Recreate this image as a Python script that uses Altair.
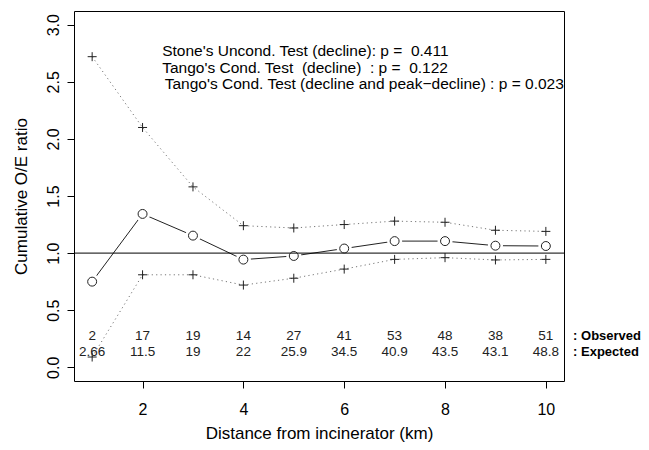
import altair as alt
import pandas as pd

# ---- data ----
distance = [1, 2, 3, 4, 5, 6, 7, 8, 9, 10]
oe_ratio = [0.75, 1.343, 1.153, 0.943, 0.975, 1.04, 1.105, 1.105, 1.065, 1.062]
upper = [2.72, 2.10, 1.58, 1.24, 1.22, 1.25, 1.28, 1.27, 1.20, 1.19]
lower = [0.09, 0.81, 0.81, 0.72, 0.78, 0.86, 0.945, 0.96, 0.94, 0.945]
observed = ["2", "17", "19", "14", "27", "41", "53", "48", "38", "51"]
expected = ["2.66", "11.5", "19", "22", "25.9", "34.5", "40.9", "43.5", "43.1", "48.8"]
row_labels = [": Observed", ": Expected"]
test_lines = [
    "Stone's Uncond. Test (decline): p =\u00a0 0.411",
    "Tango's Cond. Test\u00a0 (decline)\u00a0 : p =\u00a0 0.122",
    "Tango's Cond. Test (decline and peak\u2212decline) : p = 0.023",
]
y_ticks = [0.0, 0.5, 1.0, 1.5, 2.0, 2.5, 3.0]
x_ticks = [2, 4, 6, 8, 10]

# ---- layout constants (positions in data units) ----
test_x = [2.39, 2.39, 2.44]
test_y = [2.77, 2.62, 2.48]
obs_y, exp_y = 0.27, 0.13
row_label_x = 10.54

FONT = "Liberation Sans, Arial, sans-serif"

df = pd.DataFrame({"d": distance, "oe": oe_ratio, "up": upper, "lo": lower,
                   "obs": observed, "exp": expected})
tests_df = pd.DataFrame({"x": test_x, "y": test_y, "t": test_lines})
rows_df = pd.DataFrame({"x": [row_label_x, row_label_x], "y": [obs_y, exp_y], "t": row_labels})

xs = alt.Scale(domain=[0.64, 10.36], nice=False, zero=False)
ys = alt.Scale(domain=[-0.12, 3.12], nice=False, zero=False)

xax = alt.Axis(values=x_ticks, title="Distance from incinerator (km)", grid=False,
               domain=False, tickSize=7, tickColor="black", labelPadding=13,
               titlePadding=8, labelFontSize=16, titleFontSize=17,
               labelFont=FONT, titleFont=FONT, titleFontWeight="normal",
               labelColor="black", titleColor="black")
yax = alt.Axis(values=y_ticks, format=".1f", title="Cumulative O/E ratio", grid=False,
               domain=False, tickSize=7, tickColor="black", labelAngle=270,
               labelAlign="center", labelBaseline="bottom", labelPadding=6,
               titlePadding=15, labelFontSize=16, titleFontSize=17,
               labelFont=FONT, titleFont=FONT, titleFontWeight="normal",
               labelColor="black", titleColor="black")

base = alt.Chart(df)
X = alt.X("d:Q", scale=xs, axis=xax)

dash = [1.2, 3.2]
up_line = base.mark_line(color="#777", strokeDash=dash, strokeWidth=1).encode(
    x=X, y=alt.Y("up:Q", scale=ys, axis=yax))
lo_line = base.mark_line(color="#777", strokeDash=dash, strokeWidth=1).encode(
    x=X, y=alt.Y("lo:Q", scale=ys))
plus = "M-1,0L1,0M0,-1L0,1"
up_pts = base.mark_point(shape=plus, size=81, filled=False, stroke="#222",
                         strokeWidth=1, opacity=1).encode(x=X, y=alt.Y("up:Q", scale=ys))
lo_pts = base.mark_point(shape=plus, size=81, filled=False, stroke="#222",
                         strokeWidth=1, opacity=1).encode(x=X, y=alt.Y("lo:Q", scale=ys))
main_line = base.mark_line(color="#222", strokeWidth=1).encode(
    x=X, y=alt.Y("oe:Q", scale=ys))
halo = base.mark_point(shape="circle", size=230, filled=True, fill="white",
                       strokeWidth=0, opacity=1).encode(x=X, y=alt.Y("oe:Q", scale=ys))
hline = alt.Chart(pd.DataFrame({"v": [1.0]})).mark_rule(color="black", strokeWidth=1).encode(
    y=alt.Y("v:Q", scale=ys))
circles = base.mark_point(shape="circle", size=80, filled=False, stroke="#222",
                          strokeWidth=1, opacity=1).encode(x=X, y=alt.Y("oe:Q", scale=ys))

obs_txt = base.mark_text(font=FONT, fontSize=13.5, color="#222", baseline="middle").encode(
    x=X, y=alt.datum(obs_y), text="obs:N")
exp_txt = base.mark_text(font=FONT, fontSize=13.5, color="#222", baseline="middle").encode(
    x=X, y=alt.datum(exp_y), text="exp:N")
row_txt = alt.Chart(rows_df).mark_text(font=FONT, fontSize=13, fontWeight="bold",
                                       color="black", align="left", baseline="middle").encode(
    x=alt.X("x:Q", scale=xs), y=alt.Y("y:Q", scale=ys), text="t:N")
test_txt = alt.Chart(tests_df).mark_text(font=FONT, fontSize=15.5, color="black",
                                         align="left", baseline="middle").encode(
    x=alt.X("x:Q", scale=xs), y=alt.Y("y:Q", scale=ys), text="t:N")

chart = alt.layer(up_line, lo_line, up_pts, lo_pts, main_line, halo, hline, circles,
                  obs_txt, exp_txt, row_txt, test_txt).properties(
    width=490, height=370,
    autosize=alt.AutoSizeParams(type="none"),
    padding={"left": 66, "top": 3, "right": 77, "bottom": 61},
    background="white",
).configure_view(stroke="black", strokeWidth=1)

chart.save("out.html", embed_options={"renderer": "svg", "actions": False})
